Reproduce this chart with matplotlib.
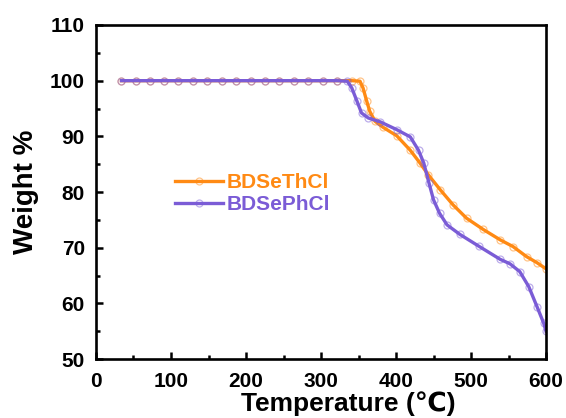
import matplotlib
matplotlib.use('Agg')
import matplotlib.pyplot as plt
from matplotlib.ticker import MultipleLocator

plt.rcParams['font.family'] = ['Liberation Sans', 'DejaVu Sans']
plt.rcParams['font.weight'] = 'bold'

# TGA curves
flat_t = [34, 53, 72, 91, 110, 129, 148, 168, 187, 206, 225, 244, 264, 283, 302, 321]

th_temp = flat_t + [341, 352, 356, 361, 365, 372, 383, 401, 419, 432, 443, 459,
                    476, 494, 516, 539, 556, 574, 588, 600]
th_weight = [100.0] * len(flat_t) + [100.0, 99.9, 98.7, 96.3, 94.5, 92.7, 91.6, 90.1,
                                     87.5, 85.2, 83.1, 80.4, 77.7, 75.3, 73.3, 71.4,
                                     70.2, 68.4, 67.3, 66.2]

ph_temp = flat_t + [335, 341, 348, 354, 363, 379, 401, 419, 430, 437, 444, 450,
                    458, 468, 485, 510, 539, 552, 565, 577, 588, 597, 600]
ph_weight = [100.0] * len(flat_t) + [99.9, 98.7, 96.3, 94.2, 93.3, 92.6, 91.2, 89.9,
                                     87.5, 85.2, 81.6, 78.6, 76.2, 74.1, 72.4, 70.3,
                                     67.9, 67.1, 65.7, 63.0, 59.4, 56.4, 55.0]

orange = '#FF8A14'
purple = '#7B5CD6'

fig = plt.figure(figsize=(5.66, 4.18), dpi=100)
ax = fig.add_axes([0.1696, 0.1411, 0.7951, 0.7991])

ax.plot(th_temp, th_weight, color=orange, lw=2.4, marker='o', ms=5,
        mfc='none', mec=(1.0, 0.54, 0.08, 0.5), mew=0.9, label='BDSeThCl')
ax.plot(ph_temp, ph_weight, color=purple, lw=2.4, marker='o', ms=5,
        mfc='none', mec=(0.48, 0.36, 0.84, 0.5), mew=0.9, label='BDSePhCl')

ax.set_xlim(0, 600)
ax.set_ylim(50, 110)
ax.xaxis.set_major_locator(MultipleLocator(100))
ax.xaxis.set_minor_locator(MultipleLocator(50))
ax.yaxis.set_major_locator(MultipleLocator(10))
ax.yaxis.set_minor_locator(MultipleLocator(5))
ax.tick_params(which='both', direction='in', width=1.8, labelsize=15)
ax.tick_params(which='major', length=5)
ax.tick_params(which='minor', length=3)
ax.tick_params(axis='x', which='major', pad=9)
ax.tick_params(axis='y', which='major', pad=8)
for lab in ax.get_xticklabels() + ax.get_yticklabels():
    lab.set_fontweight('bold')
for sp in ax.spines.values():
    sp.set_linewidth(1.9)

ax.set_xlabel('Temperature (\u2103)', fontsize=19, fontweight='bold')
ax.xaxis.set_label_coords(0.56, -0.097)
ax.set_ylabel('Weight %', fontsize=20, fontweight='bold', labelpad=8)

ax.legend(loc='upper left', bbox_to_anchor=(0.176, 0.557), frameon=False,
          borderpad=0, borderaxespad=0, labelcolor='linecolor',
          handlelength=2.3, handletextpad=0.15, labelspacing=0.15,
          prop={'weight': 'bold', 'size': 15})

fig.savefig('out.png', dpi=100)
